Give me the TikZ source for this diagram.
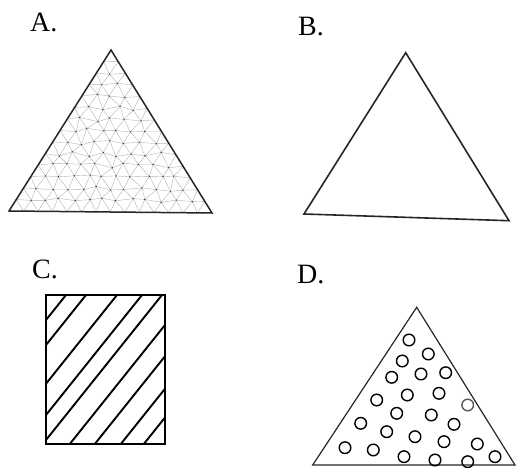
\documentclass[tikz,border=0pt]{standalone}
\usepackage{fontspec}
\setmainfont{Liberation Serif}
\usetikzlibrary{calc}

\begin{document}
\begin{tikzpicture}[
  x=1pt, y=-1pt,
  lbl/.style={anchor=base west, inner sep=0pt, font=\fontsize{28}{30}\selectfont},
  outline/.style={draw=black!85, line width=1.5pt, line join=miter},
  meshline/.style={draw=gray!60, line width=0.4pt},
  meshdot/.style={fill=gray!40!black},
  hatch/.style={draw=black, line width=1.9pt},
  frame/.style={draw=black, line width=2.2pt},
  hole/.style={draw=black, line width=1.4pt}
]
\useasboundingbox (0,0) rectangle (525,468);

% Labels
\node[lbl] (labA) at (30,32) {A.};
\node[lbl] (labB) at (298,36) {B.};
\node[lbl] (labC) at (32,278) {C.};
\node[lbl] (labD) at (297,283) {D.};

% A: triangle with mesh
\coordinate (A1) at (9,211);
\coordinate (A2) at (212,213);
\coordinate (A3) at (111,50);
\pgfmathsetseed{42}
\foreach \i in {0,...,14}{
  \foreach \j in {0,...,14}{
    \pgfmathtruncatemacro{\s}{\i+\j}
    \ifnum\s<15
      \pgfmathsetmacro{\isin}{(\i>0)*(\j>0)*(\s<14)}
      \pgfmathsetmacro{\px}{9+\i*14.5+\j*7.2857+\isin*rand*2.6}
      \pgfmathsetmacro{\py}{211+\i*0.1429-\j*11.5+\isin*rand*2.6}
      \coordinate (m-\i-\j) at (\px,\py);
    \fi
  }
}
\foreach \i in {0,...,13}{
  \foreach \j in {0,...,13}{
    \pgfmathtruncatemacro{\s}{\i+\j}
    \pgfmathtruncatemacro{\ii}{\i+1}
    \pgfmathtruncatemacro{\jj}{\j+1}
    \ifnum\s<14
      \draw[meshline] (m-\i-\j) -- (m-\ii-\j) -- (m-\i-\jj) -- cycle;
    \fi
  }
}
\foreach \i in {1,...,12}{
  \foreach \j in {1,...,12}{
    \pgfmathtruncatemacro{\s}{\i+\j}
    \ifnum\s<14
      \fill[meshdot] (m-\i-\j) circle (0.7);
    \fi
  }
}
\draw[outline] (A1) -- (A2) -- (A3) -- cycle;

% B: empty triangle
\coordinate (B1) at (304,214);
\coordinate (B2) at (509,220.7);
\coordinate (B3) at (405.7,52.7);
\draw[outline, line width=1.6pt] (B1) -- (B2) -- (B3) -- cycle;

% C: hatched rectangle
\coordinate (C1) at (46,295);
\coordinate (C2) at (165,444);
\begin{scope}
  \clip (C1) rectangle (C2);
  \foreach \c in {-99,-79,-48,-23,-3,24,49,75,98}
    \draw[hatch] ({205+\c},245) -- ({5+\c},495);
\end{scope}
\draw[frame] (C1) rectangle (C2);

% D: triangle with holes
\coordinate (D1) at (312.7,465);
\coordinate (D2) at (515,465);
\coordinate (D3) at (416.7,307.3);
\draw[outline, line width=1.2pt] (D1) -- (D2) -- (D3) -- cycle;
\foreach \hx/\hy in {409/340, 428.3/354, 402.3/361, 445.7/372.7, 421/374,
    391.7/377.3, 439/393.3, 407.3/395, 376.7/400, 396.7/413.3, 431.3/415,
    360.7/423.3, 454/424.3, 386.7/431.7, 415/436.7, 444/441.7, 477.3/444,
    345/447.7, 373.3/450, 404/456.7, 435/460, 467.7/461.7, 495/456.7}
  \draw[hole] (\hx,\hy) circle (5.8);
\draw[hole, draw=gray!70!black] (467.7,405) circle (5.8);
\end{tikzpicture}
\end{document}
